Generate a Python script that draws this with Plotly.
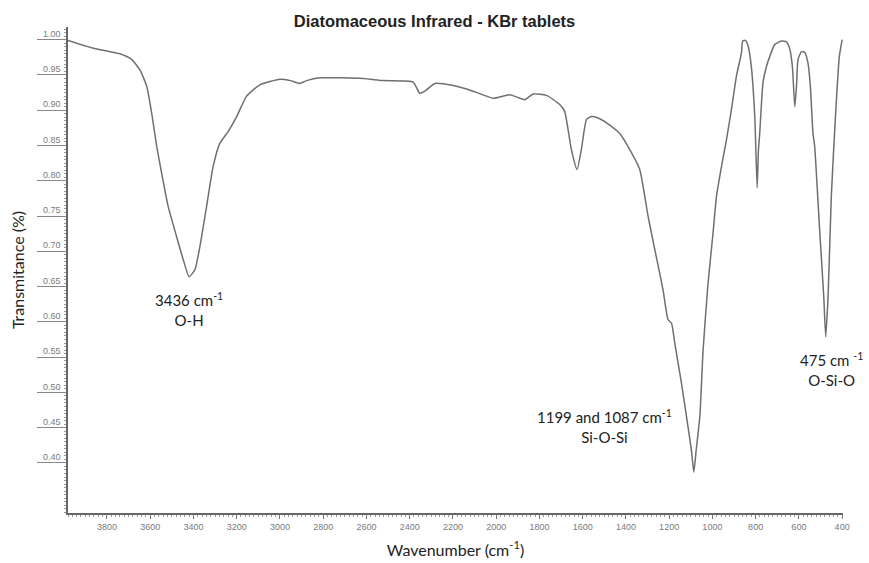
import plotly.graph_objects as go

# Spectrum (wavenumber in cm-1, transmittance)
wavenumber = [3980, 3863, 3740, 3686, 3647, 3616, 3593, 3570, 3547, 3517, 3478, 3447, 3420,
              3393, 3370, 3339, 3309, 3278, 3239, 3200, 3154, 3093, 3000, 2951, 2908, 2877,
              2815, 2615, 2523, 2384, 2353, 2330, 2284, 2199, 2106, 2014, 1937, 1867, 1829,
              1767, 1706, 1683, 1652, 1626, 1606, 1582, 1558, 1521, 1475, 1428, 1382, 1336,
              1297, 1266, 1228, 1205, 1189, 1174, 1143, 1120, 1097, 1086, 1075, 1058, 1043,
              1020, 997, 981, 958, 935, 912, 889, 866, 860, 847, 834, 820, 804, 793, 787, 781,
              766, 750, 735, 712, 681, 658, 643, 630, 619, 611, 604, 588, 573, 558, 547, 535,
              527, 504, 485, 476, 465, 450, 430, 413, 400]
transmittance = [0.999, 0.988, 0.980, 0.972, 0.957, 0.934, 0.896, 0.849, 0.811, 0.764, 0.721,
                 0.688, 0.664, 0.674, 0.707, 0.764, 0.820, 0.853, 0.870, 0.891, 0.920, 0.936,
                 0.944, 0.942, 0.938, 0.942, 0.946, 0.945, 0.942, 0.940, 0.924, 0.927, 0.938,
                 0.935, 0.927, 0.917, 0.922, 0.915, 0.923, 0.921, 0.908, 0.898, 0.844, 0.816,
                 0.844, 0.887, 0.891, 0.888, 0.879, 0.867, 0.844, 0.816, 0.749, 0.702, 0.645,
                 0.603, 0.598, 0.570, 0.513, 0.466, 0.418, 0.387, 0.418, 0.466, 0.560, 0.655,
                 0.726, 0.778, 0.820, 0.858, 0.901, 0.948, 0.981, 0.998, 0.999, 0.990, 0.962,
                 0.891, 0.790, 0.844, 0.868, 0.939, 0.962, 0.976, 0.993, 0.998, 0.997, 0.988,
                 0.962, 0.905, 0.934, 0.972, 0.983, 0.982, 0.967, 0.934, 0.868, 0.849, 0.730,
                 0.636, 0.579, 0.636, 0.778, 0.896, 0.976, 1.000]

y_ticks = [0.40, 0.45, 0.50, 0.55, 0.60, 0.65, 0.70, 0.75, 0.80, 0.85, 0.90, 0.95, 1.00]
x_ticks = [3800, 3600, 3400, 3200, 3000, 2800, 2600, 2400, 2200, 2000, 1800, 1600, 1400,
           1200, 1000, 800, 600, 400]

peak_x = [3420, 1498, 448]
peak_y = [0.618, 0.451, 0.533]
peak_text = ["3436 cm<sup>-1</sup><br>O-H",
             "1199 and 1087 cm<sup>-1</sup><br>Si-O-Si",
             "475 cm <sup>-1</sup><br>O-Si-O"]

fig = go.Figure()
fig.add_trace(go.Scatter(x=wavenumber, y=transmittance, mode="lines",
                         line=dict(color="#6f6f6f", width=1.5, shape="spline", smoothing=0.5),
                         showlegend=False))

for px, py, t in zip(peak_x, peak_y, peak_text):
    fig.add_annotation(x=px, y=py, text=t, showarrow=False, xanchor="center", yanchor="middle",
                       font=dict(family="Lato", size=15, color="#222222"))

tick_font = dict(family="Liberation Sans", size=9, color="#7a7a7a")
fig.update_layout(
    width=869, height=563,
    margin=dict(l=68, r=26, t=27, b=50, autoexpand=False),
    paper_bgcolor="white", plot_bgcolor="white",
    title=dict(text="<b>Diatomaceous Infrared - KBr tablets</b>", x=0.5, xanchor="center",
               y=0.963, yanchor="middle",
               font=dict(family="Liberation Sans", size=16.5, color="#222222")),
    xaxis=dict(range=[3980, 396], tickvals=x_ticks, ticks="outside", ticklen=4,
               tickcolor="#777777", showline=True, linecolor="#666666", linewidth=1.5,
               showgrid=False, zeroline=False, tickfont=tick_font, automargin=False,
               minor=dict(dtick=20, ticks="outside", ticklen=2, tickcolor="#999999"),
               title=dict(text="Wavenumber (cm<sup>-1</sup>)", standoff=14,
                          font=dict(family="Lato", size=16, color="#222222"))),
    yaxis=dict(range=[0.329, 1.018], tickvals=y_ticks, tickformat=".2f", ticks="outside",
               ticklen=29, tickcolor="#888888", showline=True, linecolor="#666666",
               linewidth=1.5, showgrid=False, zeroline=False, tickfont=tick_font,
               ticklabelstandoff=-25, ticklabelshift=-6, automargin=False,
               minor=dict(dtick=0.005, ticks="outside", ticklen=2, tickcolor="#999999"),
               title=dict(text="Transmitance (%)", standoff=14,
                          font=dict(family="Lato", size=16, color="#222222"))),
)

fig.write_html("out.html")
